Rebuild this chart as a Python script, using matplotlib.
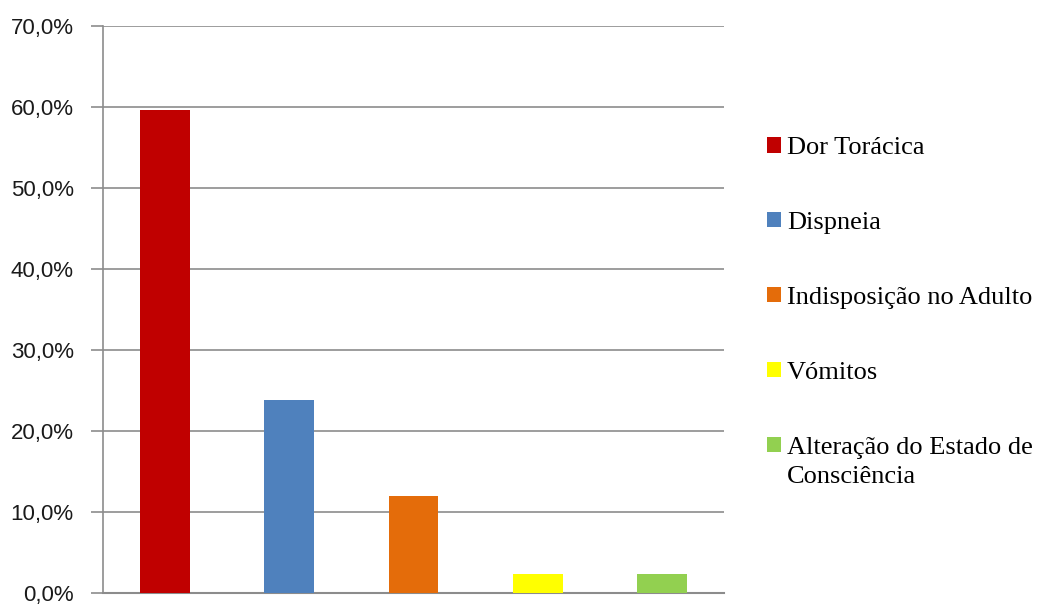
import matplotlib.pyplot as plt
from matplotlib.patches import Patch
from matplotlib.ticker import FuncFormatter

# data
categorias = ["Dor Torácica", "Dispneia", "Indisposição no Adulto", "Vómitos",
              "Alteração do Estado de\nConsciência"]
valores = [59.6, 23.8, 12.0, 2.4, 2.4]
cores = ["#C00000", "#4F81BD", "#E46C0A", "#FFFF00", "#92D050"]
yticks = [0, 10, 20, 30, 40, 50, 60, 70]

grid_col = "#8C8C8C"

fig = plt.figure(figsize=(10.38, 6.05), dpi=100)
ax = fig.add_axes([103 / 1038, 12 / 605, 621 / 1038, 567 / 605])

x = range(len(valores))
ax.bar(x, valores, width=0.4, color=cores, zorder=3)

ax.set_xlim(-0.5, len(valores) - 0.5)
ax.set_ylim(0, 70)
ax.set_yticks(yticks)
ax.yaxis.set_major_formatter(FuncFormatter(lambda v, p: f"{v:.1f}%".replace(".", ",")))
ax.set_xticks([])
ax.grid(axis="y", color=grid_col, linewidth=1.2, zorder=0)
ax.tick_params(axis="y", length=9, width=1.2, color=grid_col, pad=12,
               labelsize=16, labelcolor="#1a1a1a")
for lab in ax.get_yticklabels():
    lab.set_fontfamily("Liberation Sans")

for s in ["top", "right"]:
    ax.spines[s].set_visible(False)
ax.spines["left"].set_color(grid_col)
ax.spines["left"].set_linewidth(1.2)
ax.spines["bottom"].set_color(grid_col)
ax.spines["bottom"].set_linewidth(1.5)

handles = [Patch(facecolor=c, edgecolor="none") for c in cores]
leg = fig.legend(handles, categorias, loc="upper left",
                 bbox_to_anchor=(767 / 1038, 1 - 137 / 605),
                 frameon=False, prop={"family": "Liberation Serif", "size": 19},
                 handlelength=0.53, handleheight=0.53, handletextpad=0.22,
                 labelspacing=2.0, borderaxespad=0, borderpad=0)
leg.texts[-1].set_linespacing(1.45)
# align the last (two-line) entry's square with its first line
last_item = leg._legend_handle_box.get_children()[0].get_children()[-1]
last_item.align = "top"

fig.savefig("out.png", dpi=100)
